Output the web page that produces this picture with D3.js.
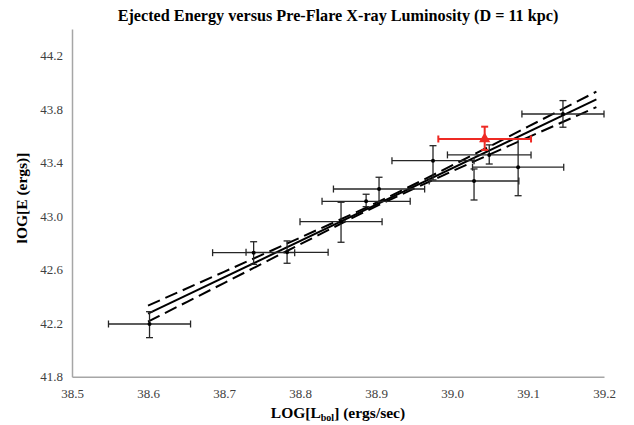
<!DOCTYPE html>
<html><head><meta charset="utf-8">
<script src="https://cdn.jsdelivr.net/npm/d3@7"></script>
<style>body{margin:0;background:#fff}svg{display:block}</style>
</head><body>
<script>
// Data
const logL   = [38.602, 38.739, 38.783, 38.854, 38.887, 38.904, 38.975, 39.029, 39.049, 39.087, 39.146];
const logE   = [42.194, 42.727, 42.730, 42.959, 43.111, 43.203, 43.415, 43.263, 43.458, 43.366, 43.764];
const xErr   = [0.054, 0.054, 0.054, 0.054, 0.058, 0.060, 0.054, 0.059, 0.055, 0.060, 0.054];
const yErrLo = [0.102, 0.087, 0.082, 0.154, 0.040, 0.095, 0.144, 0.142, 0.068, 0.213, 0.099];
const yErrHi = [0.092, 0.082, 0.085, 0.145, 0.053, 0.088, 0.112, 0.090, 0.075, 0.211, 0.100];
const redL = [39.043], redE = [43.577], redXErr = [0.061], redYLo = [0.082], redYHi = [0.092];
const fitX = [38.60, 39.19];
const fitY = [42.271, 43.873];
const bandX  = [38.60, 38.70, 38.80, 38.90, 39.00, 39.10, 39.19];
const bandHi = [42.331, 42.584, 42.839, 43.099, 43.379, 43.669, 43.931];
const bandLo = [42.211, 42.500, 42.789, 43.073, 43.335, 43.589, 43.815];
const xTicks = [38.5, 38.6, 38.7, 38.8, 38.9, 39.0, 39.1, 39.2];
const yTicks = [41.8, 42.2, 42.6, 43.0, 43.4, 43.8, 44.2];

const W = 634, H = 425;
const svg = d3.select("body").append("svg").attr("width", W).attr("height", H)
  .style("font-family", "'Liberation Serif','Times New Roman',serif");

const x = d3.scaleLinear().domain([38.5, 39.2]).range([72, 604]);
const y = d3.scaleLinear().domain([41.8, 44.4]).range([376.7, 28.9]);

// axes
const xAxis = d3.axisBottom(x).tickValues(xTicks).tickFormat(d3.format(".1f")).tickSize(0).tickPadding(12);
const yAxis = d3.axisLeft(y).tickValues(yTicks).tickFormat(d3.format(".1f")).tickSize(0).tickPadding(9);
const gx = svg.append("g").attr("transform", `translate(0,${y(41.8)})`).call(xAxis);
const gy = svg.append("g").attr("transform", `translate(${x(38.5)},0)`).call(yAxis);
[gx, gy].forEach(g => {
  g.select(".domain").attr("stroke", "#a6a6a6").attr("stroke-width", 1.5);
  g.selectAll("text").attr("fill", "#404040").style("font-size", "13px").style("font-family", "'Liberation Serif',serif");
});

// trendline + confidence bands
const line = d3.line().x(d => x(d[0])).y(d => y(d[1]));
svg.append("path").attr("d", line(fitX.map((v, i) => [v, fitY[i]])))
  .attr("fill", "none").attr("stroke", "#000").attr("stroke-width", 2);
[bandHi, bandLo].forEach(b => {
  svg.append("path").attr("d", line.curve(d3.curveMonotoneX)(bandX.map((v, i) => [v, b[i]])))
    .attr("fill", "none").attr("stroke", "#000").attr("stroke-width", 2)
    .attr("stroke-dasharray", "13,6");
});

// error bars
function errorBars(xs, ys, xe, ylo, yhi, color, sw) {
  const g = svg.append("g").attr("stroke", color).attr("stroke-width", sw).attr("fill", "none");
  const cap = 3.5;
  xs.forEach((xv, i) => {
    const cx = x(xv), cy = y(ys[i]);
    const x0 = x(xv - xe[i]), x1 = x(xv + xe[i]);
    const y0 = y(ys[i] - ylo[i]), y1 = y(ys[i] + yhi[i]);
    g.append("line").attr("x1", x0).attr("x2", x1).attr("y1", cy).attr("y2", cy);
    g.append("line").attr("x1", x0).attr("x2", x0).attr("y1", cy - cap).attr("y2", cy + cap);
    g.append("line").attr("x1", x1).attr("x2", x1).attr("y1", cy - cap).attr("y2", cy + cap);
    g.append("line").attr("x1", cx).attr("x2", cx).attr("y1", y0).attr("y2", y1);
    g.append("line").attr("x1", cx - cap).attr("x2", cx + cap).attr("y1", y0).attr("y2", y0);
    g.append("line").attr("x1", cx - cap).attr("x2", cx + cap).attr("y1", y1).attr("y2", y1);
  });
}
errorBars(logL, logE, xErr, yErrLo, yErrHi, "#262626", 1.3);
errorBars(redL, redE, redXErr, redYLo, redYHi, "#ee2a24", 2);

svg.append("g").selectAll("circle").data(logL).join("circle")
  .attr("cx", d => x(d)).attr("cy", (d, i) => y(logE[i])).attr("r", 2).attr("fill", "#000");
svg.append("g").selectAll("path").data(redL).join("path")
  .attr("d", d3.symbol(d3.symbolTriangle, 55))
  .attr("transform", (d, i) => `translate(${x(d)},${y(redE[i])})`).attr("fill", "#ee2a24");

// titles
svg.append("text").attr("x", 338).attr("y", 21).attr("text-anchor", "middle")
  .style("font-size", "16.2px").style("font-weight", "bold")
  .text("Ejected Energy versus Pre-Flare X-ray Luminosity (D = 11 kpc)");
const xt = svg.append("text").attr("x", 338).attr("y", 418).attr("text-anchor", "middle")
  .style("font-size", "15.5px").style("font-weight", "bold");
xt.append("tspan").text("LOG[L");
xt.append("tspan").attr("dy", 3).style("font-size", "10px").text("bol");
xt.append("tspan").attr("dy", -3).text("] (ergs/sec)");
svg.append("text").attr("transform", `translate(27,198) rotate(-90)`)
  .attr("text-anchor", "middle").style("font-size", "15.5px").style("font-weight", "bold")
  .text("lOG[E (ergs)]");
</script>
</body></html>
